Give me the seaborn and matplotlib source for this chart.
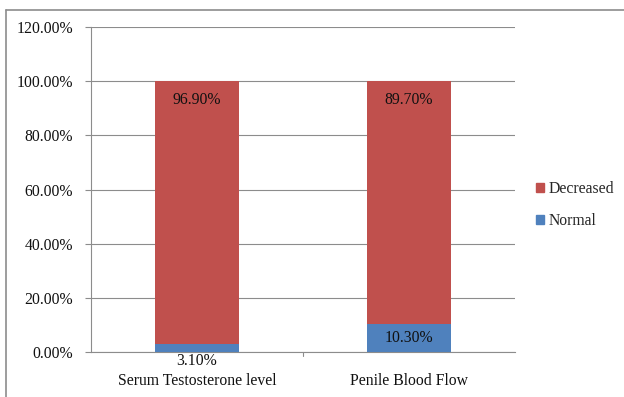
import matplotlib
matplotlib.use("Agg")
import matplotlib.pyplot as plt
from matplotlib.lines import Line2D
from matplotlib.patches import Patch
import seaborn as sns
import pandas as pd

categories = ["Serum Testosterone level", "Penile Blood Flow"]
normal = [3.10, 10.30]
decreased = [96.90, 89.70]
yticks = [0, 20, 40, 60, 80, 100, 120]

BLUE = "#4F81BD"
RED = "#C0504D"
GRID = "#8C8C8C"
TEXT = "#111111"
FS = 11.3

sns.set_theme(style="white")
plt.rcParams["font.family"] = ["Liberation Serif", "DejaVu Serif"]

fig = plt.figure(figsize=(6.24, 3.97), dpi=100)
ax = fig.add_axes([91 / 624, 1 - 352 / 397, (515 - 91) / 624, (352 - 27) / 397])

df = pd.DataFrame({"category": categories, "Normal": normal, "Decreased": decreased})
df["Total"] = df["Normal"] + df["Decreased"]

# stacked bars: total drawn first, normal part on top of it at the base
sns.barplot(data=df, x="category", y="Total", color=RED, width=0.4, ax=ax,
            saturation=1, zorder=2)
sns.barplot(data=df, x="category", y="Normal", color=BLUE, width=0.4, ax=ax,
            saturation=1, zorder=3)
for p in ax.patches:
    p.set_linewidth(0)

ax.set_ylim(0, 120)
ax.set_xlim(-0.5, 1.5)
ax.set_yticks(yticks)
ax.set_yticklabels([f"{v:.2f}%" for v in yticks], fontsize=FS, color=TEXT)
ax.set_xticks([0, 1])
ax.set_xticklabels(categories, fontsize=FS, color=TEXT)
ax.tick_params(axis="x", length=0, pad=15)
ax.tick_params(axis="y", length=4, width=0.8, color=GRID, left=True, pad=9)
ax.set_xlabel("")
ax.set_ylabel("")

ax.yaxis.grid(True, color=GRID, linewidth=0.8, zorder=0)
ax.set_axisbelow(True)
for s in ["top", "right"]:
    ax.spines[s].set_visible(False)
for s in ["left", "bottom"]:
    ax.spines[s].set_color(GRID)
    ax.spines[s].set_linewidth(0.8)
# category separator tick below the axis
ax.plot([0.5, 0.5], [0, -1.5], color=GRID, lw=0.8, clip_on=False)

# value labels
for i, (n, d) in enumerate(zip(normal, decreased)):
    ax.text(i, n + d - 7, f"{d:.2f}%", ha="center", va="center", fontsize=FS,
            color=TEXT, zorder=5)
    if n < 6:
        ax.text(i, -3.5, f"{n:.2f}%", ha="center", va="center", fontsize=FS,
                color=TEXT, zorder=5)
    else:
        ax.text(i, n / 2, f"{n:.2f}%", ha="center", va="center", fontsize=FS,
                color=TEXT, zorder=5)

handles = [Patch(color=RED, label="Decreased"), Patch(color=BLUE, label="Normal")]
fig.legend(handles=handles, loc="center left", bbox_to_anchor=(528 / 624, 1 - 205 / 397),
           frameon=False, fontsize=FS, handlelength=0.55, handleheight=0.55,
           handletextpad=0.25, labelspacing=1.0, borderpad=0)

# outer chart frame (top and left edges)
fig.add_artist(Line2D([6 / 624, 6 / 624], [0, 1 - 10 / 397], color=GRID, lw=1.2))
fig.add_artist(Line2D([6 / 624, 1], [1 - 10 / 397, 1 - 10 / 397], color=GRID, lw=1.2))

fig.savefig("out.png", dpi=100)
